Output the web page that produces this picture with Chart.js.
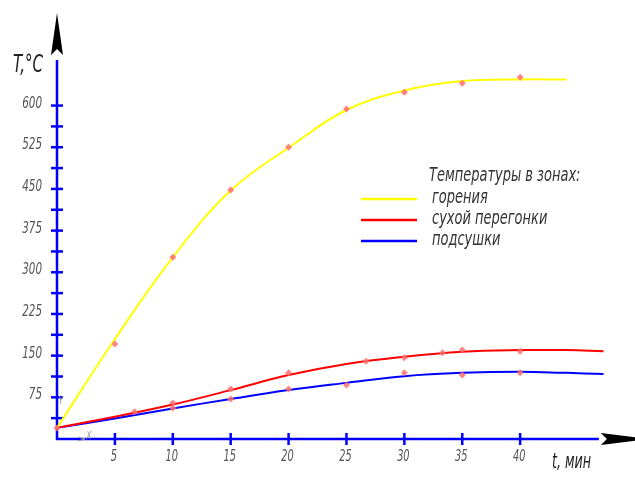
<!DOCTYPE html>
<html>
<head>
<meta charset="utf-8">
<script src="https://cdn.jsdelivr.net/npm/chart.js@4.4.1/dist/chart.umd.min.js"></script>
<style>
  html, body { margin: 0; padding: 0; background: #fff; }
  #wrap { width: 635px; height: 481px; }
</style>
</head>
<body>
<div id="wrap"><canvas id="myChart" width="635" height="481"></canvas></div>
<script>
// smoothed curves (t, min -> T, C)
var tCurve = [0, 5, 10, 15, 20, 25, 30, 35, 40, 44, 47.2];
var goreniya = [20, 180, 327, 447, 524, 592, 627, 644, 647, 647, null];
var peregonki = [20, 40, 62, 88, 115, 135, 148, 157, 160, 160, 158];
var podsushki = [20, 37, 55, 72, 88, 101, 113, 119, 121, 119, 117];

// measured points
var ptGorT = [0, 5, 10, 15, 20, 25, 30, 35, 40];
var ptGor = [20, 171, 327, 448, 525, 594, 624, 640, 651];
var ptPerT = [6.7, 10, 15, 20, 26.7, 30, 33.3, 35, 40];
var ptPer = [49, 65, 90, 119, 140, 146, 155, 160, 158];
var ptPodT = [10, 15, 20, 25, 30, 35, 40];
var ptPod = [56, 72, 90, 97, 119, 115, 119];

var legendTitle = 'Температуры в зонах:';
var yTitle = 'T,°C';
var xTitle = 't, мин';

var FONT = "'DejaVu Sans Condensed', 'DejaVu Sans', sans-serif";
var AXIS_BLUE = '#0000ff';

function pairs(xs, ys) {
  var out = [];
  for (var i = 0; i < xs.length; i++) {
    out.push({ x: xs[i], y: ys[i] });
  }
  return out;
}

function markerSet(xs, ys) {
  return {
    data: pairs(xs, ys),
    showLine: false,
    pointStyle: 'rectRot',
    pointRadius: 3.5,
    pointBackgroundColor: 'rgba(255,110,110,0.85)',
    pointBorderWidth: 0,
    clip: false
  };
}

function curveSet(label, ys, color) {
  return {
    label: label,
    legendLine: true,
    data: pairs(tCurve, ys),
    borderColor: color,
    borderWidth: 2,
    pointRadius: 0,
    fill: false,
    spanGaps: false,
    tension: 0.4,
    clip: false
  };
}

// narrow "drafting" text: squeeze glyphs horizontally
function narrowText(ctx, text, x, y, align, size, sx, color) {
  ctx.save();
  ctx.font = 'italic ' + size + 'px ' + FONT;
  ctx.fillStyle = color;
  ctx.textAlign = align;
  ctx.textBaseline = 'middle';
  ctx.translate(x, y);
  ctx.scale(sx, 1);
  ctx.fillText(text, 0, 0);
  ctx.restore();
}

var cadAxes = {
  id: 'cadAxes',
  beforeDatasetsDraw: function (chart) {
    var ctx = chart.ctx;
    var xs = chart.scales.x;
    var ys = chart.scales.y;
    var x0 = xs.getPixelForValue(0);
    var y0 = ys.getPixelForValue(0);
    var xEnd = xs.getPixelForValue(46.8);
    var yTop = chart.chartArea.top;

    ctx.save();
    ctx.strokeStyle = AXIS_BLUE;
    ctx.lineWidth = 2.5;
    ctx.beginPath();
    ctx.moveTo(x0, yTop);
    ctx.lineTo(x0, y0);
    ctx.lineTo(xEnd, y0);
    ctx.stroke();

    ys.ticks.forEach(function (t) {
      if (t.value > 0 && t.value <= 600) {
        var py = ys.getPixelForValue(t.value);
        ctx.beginPath();
        ctx.moveTo(x0 - 6, py);
        ctx.lineTo(x0 + 6, py);
        ctx.stroke();
        if (t.value % 75 === 0) {
          narrowText(ctx, String(t.value), 42, py - 2, 'right', 16, 0.72, '#555');
        }
      }
    });
    xs.ticks.forEach(function (t) {
      if (t.value >= 5 && t.value <= 40) {
        var px = xs.getPixelForValue(t.value);
        ctx.beginPath();
        ctx.moveTo(px, y0 - 6);
        ctx.lineTo(px, y0 + 6);
        ctx.stroke();
        narrowText(ctx, String(t.value), px - 1, y0 + 18, 'center', 16, 0.68, '#555');
      }
    });

    // arrow heads
    ctx.fillStyle = '#000';
    ctx.beginPath();
    ctx.moveTo(x0, 13);
    ctx.lineTo(x0 + 6, 55);
    ctx.lineTo(x0, 49);
    ctx.lineTo(x0 - 6, 55);
    ctx.closePath();
    ctx.fill();
    ctx.beginPath();
    ctx.moveTo(xEnd + 2, y0 - 6);
    ctx.lineTo(xEnd + 8, y0);
    ctx.lineTo(xEnd + 2, y0 + 6);
    ctx.lineTo(xEnd + 50, y0);
    ctx.closePath();
    ctx.fill();

    // small UCS marks at origin
    ctx.strokeStyle = '#999';
    ctx.lineWidth = 1;
    narrowText(ctx, 'X', x0 + 32, y0 - 3, 'center', 11, 0.8, '#999');
    narrowText(ctx, 'Y', x0 + 4, y0 - 38, 'center', 11, 0.8, '#999');
    ctx.beginPath();
    ctx.moveTo(x0 + 21, y0 - 2);
    ctx.lineTo(x0 + 28, y0);
    ctx.lineTo(x0 + 21, y0 + 2);
    ctx.stroke();
    ctx.restore();
  },
  afterDraw: function (chart) {
    var ctx = chart.ctx;
    narrowText(ctx, yTitle, 13, 66, 'left', 24, 0.7, '#222');
    narrowText(ctx, xTitle, 552, 462, 'left', 22, 0.64, '#222');
    narrowText(ctx, legendTitle, 429, 176, 'left', 19, 0.76, '#333');

    var rowY = [198, 219, 240];
    var k = 0;
    chart.data.datasets.forEach(function (ds) {
      if (!ds.legendLine) return;
      var y = rowY[k];
      ctx.save();
      ctx.strokeStyle = ds.borderColor;
      ctx.lineWidth = 2.5;
      ctx.beginPath();
      ctx.moveTo(361, y + 1);
      ctx.lineTo(417, y + 1);
      ctx.stroke();
      ctx.restore();
      narrowText(ctx, ds.label, 432, y, 'left', 19, 0.76, '#333');
      k++;
    });
  }
};

var config = {
  type: 'line',
  data: {
    datasets: [
      markerSet(ptGorT, ptGor),
      markerSet(ptPerT, ptPer),
      markerSet(ptPodT, ptPod),
      curveSet('горения', goreniya, '#ffff00'),
      curveSet('сухой перегонки', peregonki, '#ff0000'),
      curveSet('подсушки', podsushki, '#0000ff')
    ]
  },
  options: {
    responsive: false,
    animation: false,
    layout: { padding: { top: 60, right: 28, left: 0, bottom: 0 } },
    plugins: {
      legend: { display: false },
      tooltip: { enabled: false }
    },
    scales: {
      x: {
        type: 'linear',
        min: 0,
        max: 47.5,
        border: { display: false },
        grid: { display: false, drawTicks: false },
        ticks: { display: false, stepSize: 5, autoSkip: false, includeBounds: false },
        afterFit: function (s) { s.height = 42; }
      },
      y: {
        type: 'linear',
        min: 0,
        max: 682,
        border: { display: false },
        grid: { display: false, drawTicks: false },
        ticks: { display: false, stepSize: 37.5, autoSkip: false, includeBounds: false },
        afterFit: function (s) { s.width = 57; }
      }
    }
  },
  plugins: [cadAxes]
};

var ctx = document.getElementById('myChart').getContext('2d');
window.myChart = new Chart(ctx, config);
</script>
</body>
</html>
